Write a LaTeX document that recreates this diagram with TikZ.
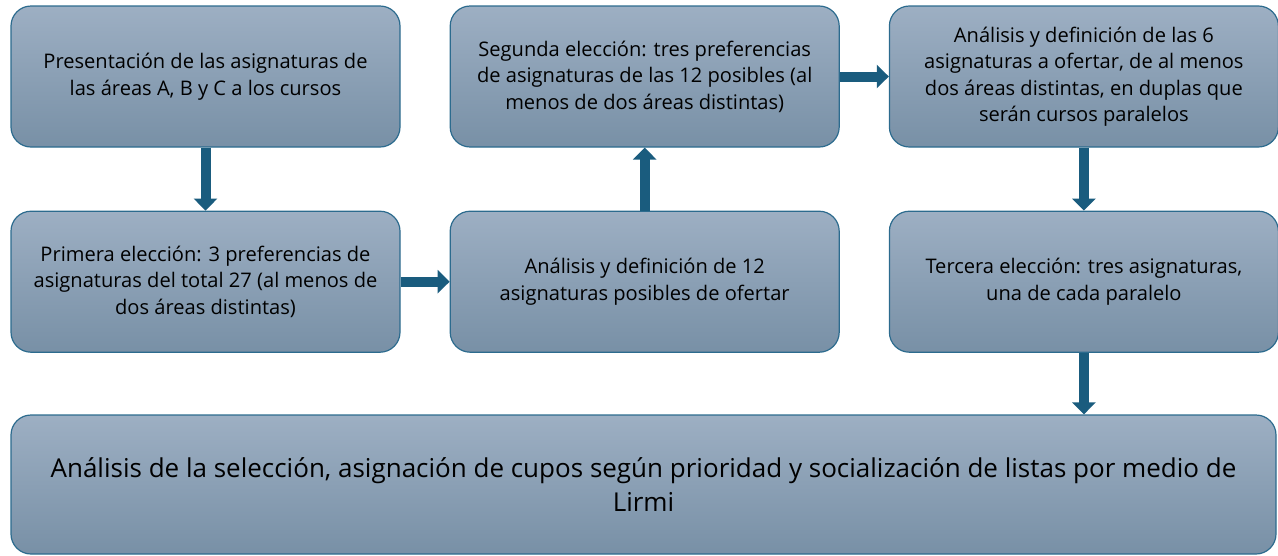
\documentclass[tikz,border=0pt]{standalone}
\usepackage{fontspec}
\setmainfont{Open Sans}
\usetikzlibrary{positioning, arrows.meta}

\definecolor{BoxTop}{HTML}{9DAFC3}
\definecolor{BoxBottom}{HTML}{7890A6}
\definecolor{BoxLine}{HTML}{2C6B8E}
\definecolor{ArrowFill}{HTML}{1A5C7E}

\tikzset{
  stepbox/.style={draw=BoxLine, line width=1.2pt, rounded corners=20pt,
    top color=BoxTop, bottom color=BoxBottom, align=center,
    minimum width=389pt, minimum height=141pt, inner sep=0pt,
    font=\fontsize{20.1pt}{26.5pt}\selectfont},
  bigbox/.style={stepbox, minimum width=1265pt, minimum height=139pt,
    font=\fontsize{26pt}{34pt}\selectfont},
  flecha/.style={draw=ArrowFill, line width=10pt,
    -{Triangle[width=23pt, length=12pt, fill=ArrowFill]}}
}

\begin{document}
\begin{tikzpicture}[x=1pt, y=1pt]

\useasboundingbox (0,0) rectangle (1278,-555);

\coordinate (P1) at (205.5,-76.5);

% Fila superior e inferior
\node[stepbox] (presentacion) at (P1)
  {Presentación de las asignaturas de\\las áreas A, B y C a los cursos};
\node[stepbox, below=63pt of presentacion] (primera)
  {Primera elección: 3 preferencias de\\asignaturas del total 27 (al menos de\\dos áreas distintas)};
\node[stepbox, right=49pt of primera] (doce)
  {Análisis y definición de 12\\asignaturas posibles de ofertar};
\node[stepbox, above=63pt of doce] (segunda)
  {Segunda elección: tres preferencias\\de asignaturas de las 12 posibles (al\\menos de dos áreas distintas)};
\node[stepbox, right=49pt of segunda] (seis)
  {Análisis y definición de las 6\\asignaturas a ofertar, de al menos\\dos áreas distintas, en duplas que\\serán cursos paralelos};
\node[stepbox, below=63pt of seis] (tercera)
  {Tercera elección: tres asignaturas,\\una de cada paralelo};

% Caja final
\node[bigbox] (final) at (643.5,-484.5)
  {Análisis de la selección, asignación de cupos según prioridad y socialización de listas por medio de\\Lirmi};

% Flechas
\draw[flecha] (presentacion.south) -- (primera.north);
\draw[flecha] (primera.east) -- (doce.west);
\draw[flecha] (doce.north) -- (segunda.south);
\draw[flecha] (segunda.east) -- (seis.west);
\draw[flecha] (seis.south) -- (tercera.north);
\draw[flecha] (tercera.south) -- (tercera.south |- final.north);

\end{tikzpicture}
\end{document}
